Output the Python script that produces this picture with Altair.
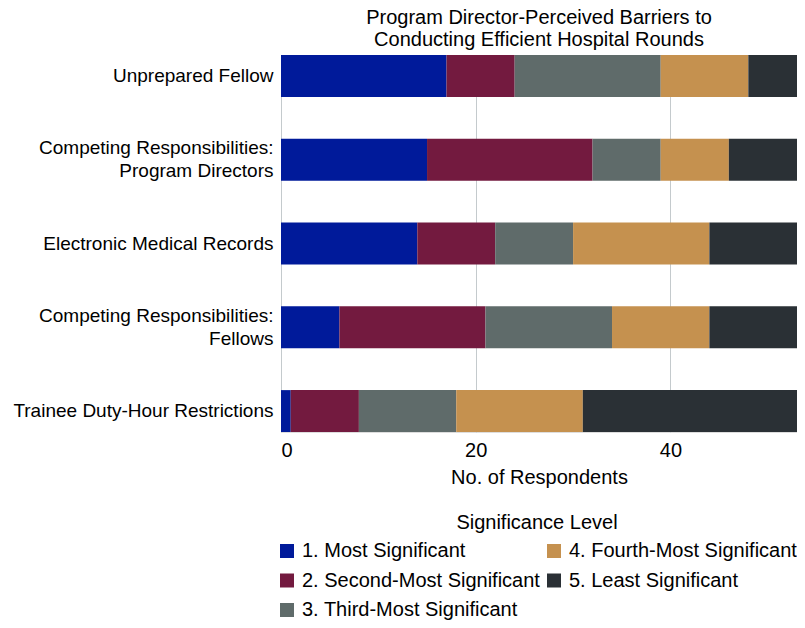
import altair as alt
import pandas as pd

barriers = [
    "Unprepared Fellow",
    "Competing Responsibilities:|Program Directors",
    "Electronic Medical Records",
    "Competing Responsibilities:|Fellows",
    "Trainee Duty-Hour Restrictions",
]
levels = [
    "1. Most Significant",
    "2. Second-Most Significant",
    "3. Third-Most Significant",
    "4. Fourth-Most Significant",
    "5. Least Significant",
]
most_significant = [17, 15, 14, 6, 1]
second_most = [7, 17, 8, 15, 7]
third_most = [15, 7, 8, 13, 10]
fourth_most = [9, 7, 14, 10, 13]
least_significant = [5, 7, 9, 9, 22]
colors = ["#001A9A", "#731A3F", "#5F6B6A", "#C5914F", "#2A3035"]
x_ticks = [0, 20, 40]

series = [most_significant, second_most, third_most, fourth_most, least_significant]
rows = []
for li, (lvl, vals) in enumerate(zip(levels, series)):
    for b, v in zip(barriers, vals):
        rows.append({"barrier": b, "level": lvl, "idx": li, "count": v})
df = pd.DataFrame(rows)

FONT = "Liberation Sans"

chart = (
    alt.Chart(df)
    .mark_bar()
    .encode(
        y=alt.Y(
            "barrier:N",
            sort=barriers,
            scale=alt.Scale(paddingInner=0.5, paddingOuter=0),
            axis=alt.Axis(
                title=None,
                labelExpr="split(datum.label, '|')",
                domain=False,
                ticks=False,
                labelFontSize=19,
                labelLineHeight=23,
                labelPadding=8,
                labelColor="black",
                labelFont=FONT,
                labelLimit=400,
                labelOffset={
                    "condition": {"test": "indexof(datum.value, '|') >= 0", "value": -11.5},
                    "value": 0,
                },
            ),
        ),
        x=alt.X(
            "count:Q",
            stack="zero",
            scale=alt.Scale(domain=[0, 53], nice=False),
            axis=alt.Axis(
                values=x_ticks,
                title="No. of Respondents",
                grid=True,
                gridColor="#C4CACD",
                gridWidth=1,
                domain=False,
                ticks=False,
                labelFontSize=20,
                labelColor="black",
                labelFont=FONT,
                labelPadding=8,
                titleFontSize=20,
                titleFontWeight="normal",
                titleColor="black",
                titleFont=FONT,
                titlePadding=7,
            ),
        ),
        color=alt.Color(
            "level:N",
            scale=alt.Scale(domain=levels, range=colors),
            legend=alt.Legend(
                title="Significance Level",
                orient="none",
                legendX=-4,
                legendY=458,
                padding=0,
                columns=2,
                symbolType="square",
                symbolSize=196,
                symbolStrokeWidth=0,
                symbolOpacity=1,
                labelFontSize=20,
                labelFont=FONT,
                labelColor="black",
                labelOffset=5,
                labelLimit=400,
                titleFontSize=20,
                titleFont=FONT,
                titleFontWeight="normal",
                titleColor="black",
                titleAnchor="middle",
                titlePadding=8,
                rowPadding=9.5,
                columnPadding=4,
            ),
        ),
        order=alt.Order("idx:Q"),
    )
    .properties(
        width=516,
        height=377,
        title=alt.TitleParams(
            ["Program Director-Perceived Barriers to", "Conducting Efficient Hospital Rounds"],
            fontSize=20,
            fontWeight="normal",
            font=FONT,
            color="black",
            anchor="middle",
            frame="group",
            lineHeight=22,
            offset=5,
        ),
        autosize=alt.AutoSizeParams(type="none"),
        padding={"left": 273, "top": 47, "right": 0, "bottom": 196},
    )
    .configure_view(stroke=None)
    .configure(font=FONT)
)

chart.save("out.html", embed_options={"renderer": "svg", "actions": False})
